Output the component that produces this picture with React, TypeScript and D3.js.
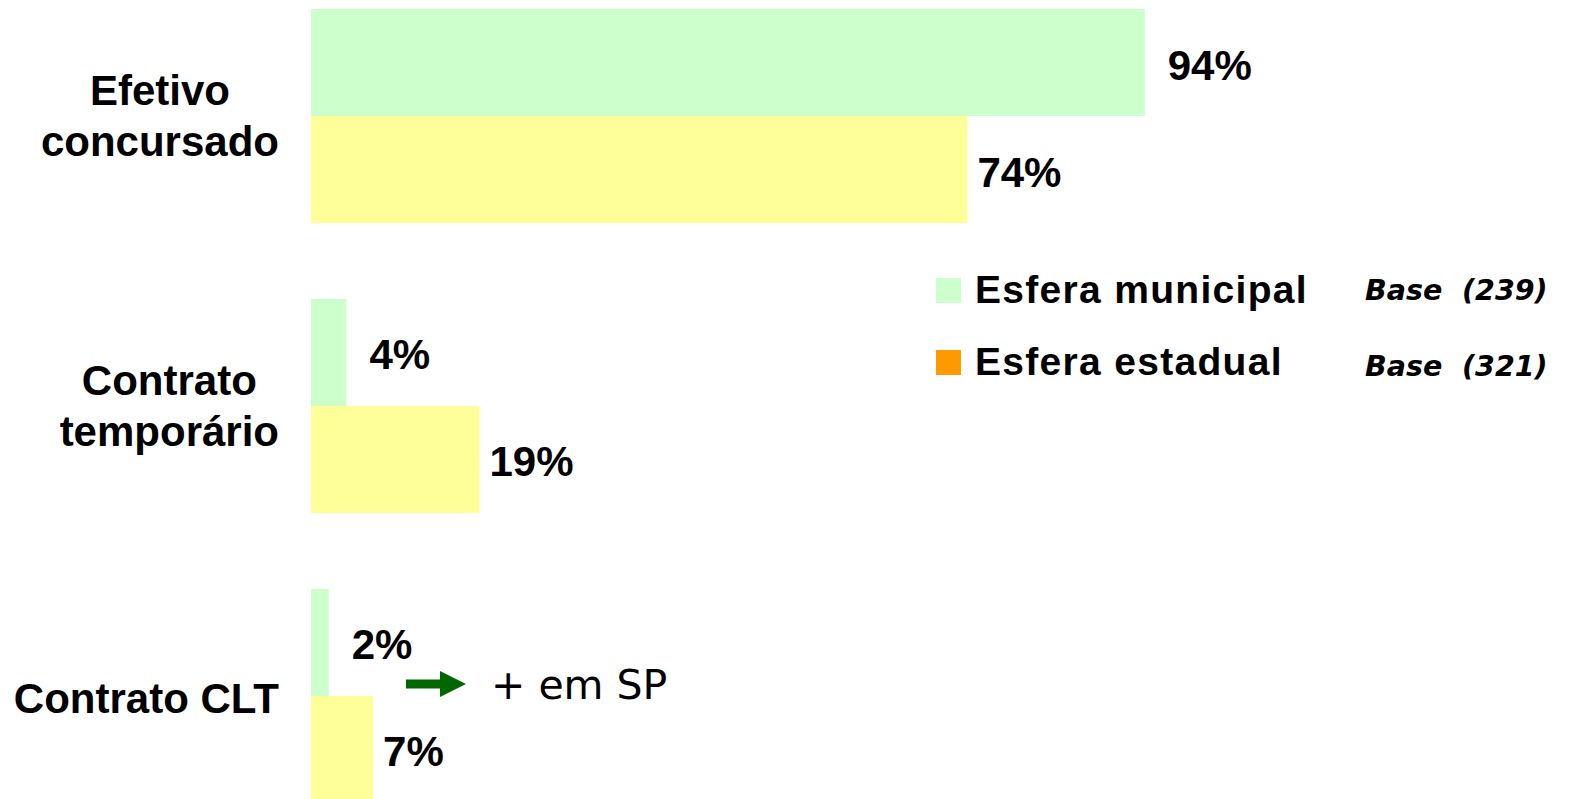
import { useEffect, useRef } from "react";
import * as d3 from "d3";

// categories (line-broken as in the slide)
const categories = ["Efetivo concursado", "Contrato temporário", "Contrato CLT"];
const categoryLines = [["Efetivo", "concursado"], ["Contrato", "temporário"], ["Contrato CLT"]];

// series
const seriesNames = ["Esfera municipal", "Esfera estadual"];
const municipal = [94, 4, 2];
const estadual = [74, 19, 7];
const baseLabels = ["Base  (239)", "Base  (321)"];
const noteText = "+ em SP";

const barColors = ["#CCFFCC", "#FFFF99"];
const legendColors = ["#CCFFCC", "#FF9900"];

const W = 1569;
const H = 799;
const SANS = "'Liberation Sans', Arial, Helvetica, sans-serif";
const VERDANA = "'DejaVu Sans', Verdana, sans-serif";

const App = () => {
  const svgRef = useRef<SVGSVGElement>(null);

  useEffect(() => {
    const svg = d3.select(svgRef.current);
    svg.selectAll("*").remove();

    const y = d3.scaleBand<string>().domain(categories).range([9, 803]).paddingInner(0.262).paddingOuter(0);
    const ys = d3.scaleBand<string>().domain(seriesNames).range([0, y.bandwidth()]).padding(0);
    const x = d3.scaleLinear().domain([0, 100]).range([311, 1198]);

    const rows = categories.map((c, i) => ({ cat: c, lines: categoryLines[i], vals: [municipal[i], estadual[i]] }));

    // bars + value labels
    const groups = svg
      .selectAll(".grp")
      .data(rows)
      .enter()
      .append("g")
      .attr("class", "grp")
      .attr("transform", (d) => `translate(0,${y(d.cat)})`);

    groups.each(function (d) {
      const g = d3.select(this);
      seriesNames.forEach((s, si) => {
        const v = d.vals[si];
        g.append("rect")
          .attr("x", x(0))
          .attr("y", ys(s)!)
          .attr("width", x(v) - x(0))
          .attr("height", ys.bandwidth())
          .attr("fill", barColors[si]);
        g.append("text")
          .attr("x", x(v) + (si === 0 ? 23 : 10))
          .attr("y", ys(s)! + ys.bandwidth() / 2 + 17)
          .attr("font-family", SANS)
          .attr("font-weight", "bold")
          .attr("font-size", 42)
          .attr("fill", "#000")
          .text(`${v}%`);
      });
    });

    // category labels: lines centred in a block whose right edge sits at 279
    rows.forEach((d) => {
      const yc = y(d.cat)! + y.bandwidth() / 2;
      const g = svg.append("g");
      const n = d.lines.length;
      const texts = d.lines.map((ln, i) =>
        g
          .append("text")
          .attr("x", 0)
          .attr("y", yc + 17 - (n - 1) * 28 + i * 51)
          .attr("text-anchor", "middle")
          .attr("font-family", SANS)
          .attr("font-weight", "bold")
          .attr("font-size", 42)
          .attr("fill", "#000")
          .text(ln)
      );
      const maxW = d3.max(texts, (t) => (t.node() as SVGTextElement).getComputedTextLength()) || 0;
      g.attr("transform", `translate(${279 - maxW / 2},0)`);
    });

    // legend
    const legend = svg.append("g");
    seriesNames.forEach((s, i) => {
      legend.append("rect")
        .attr("x", 936)
        .attr("y", 278 + i * 72)
        .attr("width", 25)
        .attr("height", 25)
        .attr("fill", legendColors[i]);
      legend.append("text")
        .attr("x", 975)
        .attr("y", 303 + i * 72)
        .attr("font-family", SANS)
        .attr("font-weight", "bold")
        .attr("font-size", 39)
        .attr("letter-spacing", 1.3)
        .attr("fill", "#000")
        .text(s);
      legend.append("text")
        .attr("x", 1365)
        .attr("y", 300 + i * 76)
        .attr("font-family", VERDANA)
        .attr("font-weight", "bold")
        .attr("font-style", "italic")
        .attr("font-size", 28.5)
        .attr("fill", "#000")
        .style("white-space", "pre")
        .text(baseLabels[i]);
    });

    // note arrow "+ em SP"
    const ay = 684;
    svg.append("rect").attr("x", 406).attr("y", ay - 4.5).attr("width", 36).attr("height", 9).attr("fill", "#006600");
    svg.append("path")
      .attr("d", `M440,${ay - 13}L466,${ay}L440,${ay + 13}Z`)
      .attr("fill", "#006600");
    svg.append("text")
      .attr("x", 491)
      .attr("y", 699)
      .attr("font-family", VERDANA)
      .attr("font-size", 41)
      .attr("fill", "#000")
      .text(noteText);
  }, []);

  return (
    <svg
      ref={svgRef}
      width={W}
      height={H}
      style={{ position: "absolute", left: 0, top: 0, background: "#fff", overflow: "hidden" }}
    ></svg>
  );
};

export default App;
